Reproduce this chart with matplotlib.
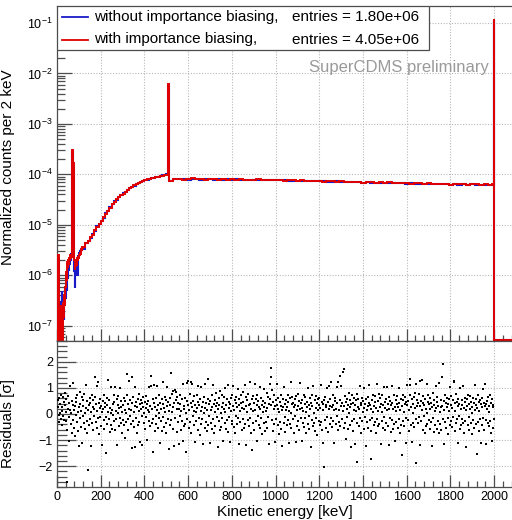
import numpy as np
import matplotlib
matplotlib.use("Agg")
import matplotlib.pyplot as plt
from matplotlib.ticker import LogLocator, MultipleLocator, NullFormatter
from matplotlib.patches import Rectangle
from matplotlib.lines import Line2D

plt.rcParams['font.family'] = ['Liberation Sans', 'DejaVu Sans']
plt.rcParams['mathtext.default'] = 'regular'

# ---------------- data ---------------- #

# bin edges in keV: 2 keV bins at low energy, coarser bins on the continuum
bin_edges = np.concatenate([np.arange(0, 120, 2), np.arange(120, 510, 10), [510],
                            np.arange(512, 1992, 20), [1992, 1998, 2000, 2100]])

red_low = [1.0e-7, 0, 1.2e-7, 2.5e-6, 1.5e-7, 0, 1.5e-7, 0, 2.0e-7, 0,
           2.5e-7, 1.2e-7, 0, 3.0e-7, 1.5e-7, 3.5e-7, 2.0e-7, 4.0e-7, 2.5e-7, 6.0e-7,
           1.2e-6, 8.0e-7, 1.5e-6, 1.1e-6, 1.8e-6, 1.4e-6, 2.0e-6, 1.6e-6, 2.2e-6, 1.9e-6,
           2.5e-6, 2.1e-6, 2.7e-6, 2.3e-6, 2.8e-6, 3.0e-4, 2.5e-5, 1.7e-4, 1.5e-4, 1.2e-5,
           2.0e-6, 1.3e-6, 1.5e-6, 1.8e-6, 1.6e-6, 2.0e-6, 2.2e-6, 1.9e-6, 2.4e-6, 2.2e-6,
           2.7e-6, 2.5e-6, 2.9e-6, 2.7e-6, 3.1e-6, 2.9e-6, 3.3e-6, 3.1e-6, 3.6e-6, 3.4e-6]
blue_low = [1.0e-7, 0, 0, 2.0e-6, 1.2e-7, 2.0e-7, 2.5e-7, 1.5e-7, 2.8e-7, 1.0e-7,
            3.0e-7, 5.0e-7, 2.5e-7, 2.0e-7, 3.5e-7, 2.5e-7, 1.3e-7, 2.8e-7, 6.0e-7, 3.5e-7,
            4.0e-7, 6.5e-7, 5.0e-7, 7.0e-7, 9.0e-7, 1.1e-6, 1.3e-6, 1.2e-6, 1.7e-6, 1.8e-6,
            2.0e-6, 2.3e-6, 2.2e-6, 2.6e-6, 2.5e-6, 2.8e-4, 2.2e-5, 1.6e-4, 1.4e-4, 1.0e-5,
            1.2e-6, 5.5e-7, 1.1e-6, 1.6e-6, 1.4e-6, 2.1e-6, 1.0e-6, 2.0e-6, 2.5e-6, 2.3e-6,
            2.4e-6, 2.8e-6, 2.7e-6, 3.1e-6, 2.9e-6, 3.3e-6, 3.2e-6, 3.6e-6, 3.4e-6, 3.9e-6]

red_rise = [3.6e-6, 4.3e-6, 4.7e-6, 5.7e-6, 6.4e-6, 7.9e-6, 9.1e-6, 1.06e-5, 1.18e-5, 1.42e-5,
            1.63e-5, 1.92e-5, 2.18e-5, 2.63e-5, 2.86e-5, 3.23e-5, 3.58e-5, 3.93e-5, 4.17e-5, 4.55e-5,
            4.86e-5, 5.35e-5, 5.58e-5, 6.05e-5, 6.36e-5, 6.84e-5, 7.05e-5, 7.46e-5, 7.68e-5, 7.94e-5,
            8.15e-5, 8.45e-5, 8.56e-5, 8.85e-5, 8.97e-5, 9.25e-5, 9.43e-5, 9.78e-5, 9.95e-5]
blue_rise = [3.4e-6, 4.4e-6, 4.9e-6, 5.5e-6, 6.7e-6, 7.6e-6, 9.4e-6, 1.03e-5, 1.22e-5, 1.39e-5,
             1.68e-5, 1.87e-5, 2.24e-5, 2.56e-5, 2.94e-5, 3.17e-5, 3.64e-5, 3.86e-5, 4.25e-5, 4.48e-5,
             4.95e-5, 5.27e-5, 5.66e-5, 5.96e-5, 6.45e-5, 6.76e-5, 7.14e-5, 7.38e-5, 7.77e-5, 7.86e-5,
             8.24e-5, 8.37e-5, 8.64e-5, 8.78e-5, 9.06e-5, 9.17e-5, 9.52e-5, 9.69e-5, 1.01e-4]

red_peak511 = 6.2e-3
blue_peak511 = 6.0e-3

# flat part 512-1992 keV, in units of 1e-5
red_flat = [7.3, 8.0, 8.2, 7.9, 8.1, 8.3, 8.0, 8.1, 7.9, 8.2,
            8.0, 7.9, 8.1, 7.8, 8.0, 7.9, 8.1, 7.8, 7.9, 7.7,
            8.0, 7.8, 7.7, 7.9, 7.6, 7.8, 7.5, 7.7, 7.6, 7.4,
            7.6, 7.5, 7.3, 7.5, 7.4, 7.2, 7.4, 7.3, 7.1, 7.3,
            7.2, 7.0, 7.2, 7.1, 6.9, 7.1, 7.0, 6.9, 7.0, 6.8,
            7.0, 6.9, 6.7, 6.9, 6.8, 6.6, 6.8, 6.7, 6.5, 6.7,
            6.6, 6.4, 6.6, 6.5, 6.3, 6.5, 6.4, 6.6, 6.3, 6.5,
            6.4, 6.2, 6.4, 6.3]
blue_flat = [7.5, 8.1, 8.0, 8.2, 7.9, 8.1, 8.2, 7.9, 8.0, 8.1,
             7.8, 8.0, 7.9, 8.0, 7.8, 8.0, 7.9, 7.7, 7.9, 7.8,
             7.8, 7.9, 7.6, 7.7, 7.7, 7.6, 7.7, 7.5, 7.5, 7.5,
             7.4, 7.5, 7.4, 7.3, 7.3, 7.3, 7.2, 7.2, 7.3, 7.1,
             7.0, 7.1, 7.1, 7.0, 6.9, 7.0, 6.9, 6.8, 6.9, 6.9,
             6.8, 6.7, 6.8, 6.8, 6.6, 6.7, 6.6, 6.6, 6.5, 6.5,
             6.6, 6.4, 6.4, 6.5, 6.3, 6.4, 6.3, 6.5, 6.2, 6.4,
             6.3, 6.3, 6.2, 6.2]

# 1992-1998, 1998-2000 (2 MeV line), 2000-2100 (empty)
red_tail = [6.4e-5, 1.18e-1, 0]
blue_tail = [6.3e-5, 1.15e-1, 0]

entries_without = "1.80e+06"
entries_with = "4.05e+06"

# residuals, one per 2 keV bin from 0 to 2000 keV
residuals = [
    0.55, 0.52, 0.28, -0.05, 0.61, -0.32, 0.04, 0.38, -0.18, 0.73, 0.12, -0.44, 0.25, 0.66, -0.08, 0.47, -0.22, 0.81, 0.33, -0.27, 0.09, 0.58, -2.62, -0.61, 0.21,
    0.69, -0.12, 0.42, -1.05, 0.17, 1.08, -0.38, 0.02, 0.51, -0.71, 0.36, -0.24, 1.17, 0.14, -0.53, 0.29, -0.86, 0.63, -0.02, 0.45, -0.31, 0.72, 0.07, -0.67, -1.21,
    0.26, 0.84, -0.15, 0.39, -0.48, 0.11, 0.67, -1.13, 0.31, -0.09, 0.54, -0.36, 0.76, 0.03, -0.58, 0.22, 1.12, -0.26, 0.48, -0.74, 0.15, -2.15, 0.34, -0.41, 0.62,
    -0.19, 0.44, 0.08, -1.22, 0.71, -0.34, 0.27, 0.53, -0.63, 0.18, -0.07, 0.65, 1.42, -0.29, 0.37, 1.06, -0.52, 0.13, 1.21, -0.16, 0.41, -0.78, 0.24, -0.11, 0.58,
    -0.45, 0.32, 0.06, -1.18, 0.49, 0.19, -0.24, 0.74, -0.57, 0.28, 0.42, -0.13, -1.48, 0.36, 0.61, -0.37, 0.09, 1.31, -0.21, 0.52, -0.69, 0.23, 0.04, -0.42, 1.03,
    0.17, -0.56, 0.38, -0.03, 0.71, -0.28, 0.46, 1.03, -0.61, 0.12, -0.19, 0.57, -1.17, 0.33, 0.05, 0.68, -0.47, 0.22, -0.14, 0.99, -0.36, 0.27, 0.48, -0.73, 0.06,
    0.35, -0.22, 0.61, -0.41, 0.14, -0.93, 0.49, 0.02, -0.31, 0.74, 1.52, -0.18, 0.39, -0.62, 0.21, 1.25, -0.09, 0.55, -0.37, 0.16, -1.32, 0.43, 1.41, -0.27, 0.67,
    -0.51, 0.08, -1.25, 0.31, 1.04, -0.16, 0.47, -0.72, 0.25, 0.59, -0.43, 0.12, 0.76, -0.29, 0.37, -1.08, 0.19, 0.53, -0.06, 0.41, -1.17, 0.28, 0.64, -0.34, 0.03,
    0.47, -0.58, 0.22, 0.69, -0.13, 0.38, -0.99, 0.15, 0.51, -0.26, 1.03, 0.06, -0.46, 0.32, 1.09, 1.45, -0.35, 0.18, -1.47, 0.57, -0.21, 0.42, 1.12, -0.64, 0.27,
    -0.08, 0.63, -0.39, 0.14, 1.08, -0.55, 0.33, -0.17, 0.71, 0.02, -1.13, 0.44, -0.28, 0.19, 0.56, -0.66, 0.37, 1.21, -0.12, 0.24, -0.48, 0.65, 0.09, -0.33, 0.52,
    -0.74, 0.29, 1.05, -0.19, 0.46, -1.35, 0.13, 0.62, -0.41, 0.34, 1.58, -0.23, 0.78, 0.07, -0.56, 0.88, 0.25, -1.24, 0.41, 0.92, -0.15, 0.83, 0.55, -0.68, 0.18,
    0.66, -0.32, 0.44, -1.15, 0.21, 0.73, -0.06, 0.39, -0.63, 0.12, 0.58, -0.27, 1.14, -1.02, 0.31, -0.45, 0.19, 0.63, -0.37, 0.05, -1.44, 0.48, 1.18, -0.21, 0.35,
    1.26, -0.53, 0.17, 0.76, -0.31, 1.21, 0.42, -0.72, 0.28, 1.14, -0.09, 0.51, -0.44, 0.13, 0.69, -1.07, 0.36, 0.08, -0.25, 0.74, 0.22, -0.61, 0.47, 1.07, -0.14,
    0.33, -0.79, 0.58, 0.11, -0.38, 1.02, -0.18, 0.27, -1.16, 0.45, 0.03, 0.67, -0.52, 0.24, 1.16, -0.29, 0.41, -0.66, 0.15, 0.59, -0.43, 1.33, -0.08, 0.37, -1.12,
    0.49, 0.14, -0.35, 0.71, -0.57, 0.26, 1.13, -0.21, 0.38, -0.74, 0.09, 0.55, -0.46, 0.31, 0.79, -0.12, 0.44, -1.27, 0.18, 0.62, -0.28, 0.36, -0.63, 0.87, 0.04,
    -0.51, 0.28, 0.72, -0.15, 0.43, -1.02, 0.19, 0.65, -0.36, 1.01, 0.07, -0.58, 0.34, 0.56, -0.24, 1.11, -0.69, 0.22, 0.47, -0.11, 0.38, -1.08, 0.61, 0.13, -0.39,
    0.74, -0.27, 0.31, 1.09, -0.49, 0.16, 0.53, -0.73, 0.42, -0.06, 0.67, 0.25, -0.38, 0.94, -0.17, 0.35, -1.15, 0.58, 0.11, -0.32, 0.71, 0.44, -0.62, 0.23, 0.83,
    -0.19, 0.46, -0.54, 0.18, 1.11, -0.37, 0.29, 0.64, -1.18, 0.06, 0.52, -0.23, 0.77, -0.45, 0.33, 1.22, -0.14, 0.39, -0.71, 0.21, 0.56, -1.38, 0.12, 0.68, -0.33,
    0.41, -0.61, 1.14, 0.15, -0.28, 0.57, -1.03, 0.36, 0.73, -0.09, 0.48, -0.42, 0.26, 1.04, -0.55, 0.19, 0.62, -0.17, 0.34, -0.78, 0.51, 0.08, -0.36, 0.95, 0.27,
    -0.64, 0.43, 0.12, -0.31, 0.79, -0.52, 0.24, 0.67, -0.13, 0.38, -1.16, 0.57, 1.16, 0.34, 1.42, 1.78, 0.91, -0.22, 0.46, -0.67, 0.18, 0.73, -0.39, 0.29, -1.07,
    0.52, -0.18, 0.36, 1.15, -0.44, 0.21, 0.63, -0.76, 0.09, 0.47, -0.29, 0.71, -0.57, 0.32, 0.14, -1.23, 0.58, 0.26, -0.35, 1.02, -0.11, 0.39, -0.68, 0.17, 0.55,
    -0.42, 0.28, 0.74, -0.23, 0.46, -1.11, 0.12, 0.61, -0.37, 1.23, 0.05, -0.54, 0.37, 0.66, -0.19, 0.43, -0.73, 0.25, 0.58, -0.08, 0.34, -1.07, 0.69, 0.16, -0.46,
    0.31, 0.77, -0.26, 0.49, -0.62, 0.18, 1.17, -0.14, 0.42, -1.04, 0.23, 0.55, -0.33, 0.13, 0.72, -0.51, 0.38, -0.17, 0.64, 0.09, -0.71, 0.47, 0.26, -0.39, 1.01,
    -0.07, 0.35, -0.58, 0.62, 0.19, -1.26, 0.44, 0.71, -0.24, 0.31, -0.47, 1.06, 0.03, -0.35, 0.53, -0.66, 0.24, 0.68, -0.16, 0.41, -0.79, 0.15, 0.57, -0.28, 0.36,
    0.63, -0.42, 0.22, 1.11, -0.31, 0.47, -0.63, 0.14, 0.38, -1.11, -2.02, 0.52, -0.22, 0.67, 0.28, -0.55, 0.35, 0.99, -0.12, 0.45, -0.69, 0.19, 1.08, 0.31, -0.37,
    0.58, -0.14, 1.22, 0.26, -0.48, 0.36, 0.73, -0.27, 0.15, -1.12, 0.49, 0.62, -0.38, 0.21, 1.04, -0.06, 0.41, -0.63, 1.22, 0.17, -0.29, 0.55, 1.46, -0.45, 0.32,
    1.06, -0.21, 0.43, 1.61, 0.11, 1.73, -0.53, 0.29, 0.68, -0.34, 0.47, -0.97, 0.18, 0.59, -0.13, 0.36, -0.59, 0.82, 0.04, -0.41, 0.53, 0.26, -1.27, 0.39, 0.71,
    -0.25, 0.44, -0.66, 0.17, 0.63, -0.19, 0.35, -1.14, 0.52, 0.12, -1.84, 0.77, -0.36, 0.28, 0.56, -0.47, 0.19, 1.09, -0.15, 0.42, -0.72, 0.33, 0.61, -0.28, 0.07,
    0.49, -0.58, 0.23, 1.01, -0.11, 0.38, -1.21, 0.57, 0.14, -0.32, 0.67, 0.29, -0.54, 0.44, 1.12, -0.23, 0.36, -0.64, 0.18, -1.72, 0.53, -0.17, 0.74, 0.06, -0.43,
    0.31, 0.69, -0.29, 0.45, -0.73, 0.22, 1.14, -0.18, 0.51, -0.46, 0.13, 0.78, -0.37, 0.27, 0.62, -1.14, 0.39, 0.08, -0.26, 0.71, -0.52, 0.35, 1.03, -0.12, 0.46,
    -0.61, 0.24, 0.57, -0.34, 1.03, 0.15, -0.47, 0.38, -1.19, 0.66, 0.21, -0.16, 0.49, -0.68, 0.33, 1.07, -0.24, 0.42, -0.56, 0.19, 0.74, -0.38, 0.28, -1.03, 0.55,
    0.12, -0.31, 0.68, 0.37, -0.52, 0.26, 1.01, -0.19, 0.44, -0.71, 0.17, 0.59, -0.42, 0.31, -1.58, 0.53, -0.27, 0.74, 0.09, -0.46, 0.38, 0.65, -0.14, 0.47, -1.13,
    0.35, 1.11, -0.22, 0.48, -0.65, 0.14, 0.72, 1.12, 1.34, -0.41, 0.26, 0.57, -1.08, 0.39, 0.05, -0.33, 0.64, -0.51, 0.22, 0.82, -0.18, 1.15, -1.88, 0.31, 0.53,
    -0.36, 0.43, 0.76, -0.12, 0.29, -1.18, 1.28, 0.51, -0.27, 1.31, 0.14, -0.62, 0.41, 0.68, -0.09, 0.35, -0.74, 0.58, 0.21, -0.45, 1.16, 0.03, -0.39, 0.47, 0.72,
    -0.23, 0.37, -0.56, 0.18, 0.63, -0.31, 0.44, -1.21, 0.27, 0.79, -0.15, 0.52, -0.68, 0.34, 0.11, -0.42, 1.09, 0.23, -0.58, 0.46, 0.67, -0.26, 0.32, -0.74, 1.19,
    0.08, -0.37, 0.55, 0.28, -0.63, 1.41, 0.32, 1.92, -0.21, 0.49, -1.16, 0.16, 0.73, -0.32, 0.43, -0.54, 0.25, 0.61, -0.17, 0.38, -0.77, 0.57, 0.11, -0.44, 1.04,
    -0.28, 0.34, 0.69, -0.49, 0.22, 0.53, -0.13, 1.23, 1.26, -0.64, 0.41, 0.12, -0.35, 0.78, -0.21, 0.46, -1.12, 0.29, 0.59, -0.08, 0.37, -0.57, 0.98, 0.18, -0.43,
    0.52, -0.19, 0.33, 1.06, -0.36, 0.24, -0.71, 0.47, 0.63, -0.27, 0.15, -1.25, 0.58, 0.31, -0.44, 0.74, -0.12, 0.39, -0.61, 0.21, 0.68, -0.33, 0.46, 0.05, -0.78,
    0.27, 0.62, -0.24, 0.41, -0.53, 0.17, 1.13, -0.38, 0.34, 0.56, -1.52, 0.22, 0.71, -0.29, 0.45, -0.67, 0.13, 0.54, -0.18, 0.37, -1.11, 0.61, 0.26, -0.41, 0.96,
    -0.15, 0.43, -0.62, 0.29, 1.15, -0.23, 0.38, -1.14, 0.51, 0.18, -0.36, 0.66, 0.09, -0.47, 0.32, 0.73, -0.26, 0.44, -0.71, 0.58, -1.02, 0.27, 0.36, -0.55, -0.18,
]

# ---------------- style ---------------- #

RED = '#e00000'
BLUE = '#1a1ac8'
FRAME = '#4d4d4d'
GRID = '#b8b8b8'
Y_MIN, Y_MAX = 5.0e-8, 0.217
X_MIN, X_MAX = 0, 2082


def style_axis(ax):
    for s in ax.spines.values():
        s.set_color(FRAME)
        s.set_linewidth(0.9)
    ax.spines['right'].set_visible(False)
    ax.tick_params(which='both', direction='in', top=False, right=False,
                   colors=FRAME, labelcolor='black', labelsize=9, pad=3)
    ax.xaxis.set_major_locator(MultipleLocator(200))
    ax.xaxis.set_minor_locator(MultipleLocator(40))
    ax.tick_params(axis='x', which='major', length=9, width=0.9)
    ax.tick_params(axis='x', which='minor', length=4.5, width=0.9)
    ax.grid(True, which='major', color=GRID, linestyle=(0, (1, 1.5)), linewidth=0.8)
    ax.set_xlim(X_MIN, X_MAX)


def main():
    red = np.array(red_low + red_rise + [red_peak511] + [v * 1e-5 for v in red_flat] + red_tail)
    blue = np.array(blue_low + blue_rise + [blue_peak511] + [v * 1e-5 for v in blue_flat] + blue_tail)
    # ROOT draws empty bins at the bottom of a log axis
    red_draw = np.where(red > 0, red, Y_MIN * 1.04)
    blue_draw = np.where(blue > 0, blue, Y_MIN * 1.04)

    fig = plt.figure(figsize=(5.12, 5.2), dpi=100)
    ax = fig.add_axes([57 / 512, 1 - 341 / 520, 455 / 512, 335 / 520])
    axr = fig.add_axes([57 / 512, 1 - 487 / 520, 455 / 512, 146 / 520])

    # ---- spectrum ----
    style_axis(ax)
    ax.stairs(blue_draw, bin_edges, color=BLUE, linewidth=1.5, zorder=3)
    ax.stairs(red_draw, bin_edges, color=RED, linewidth=1.4, zorder=4)
    ax.set_yscale('log')
    ax.set_ylim(Y_MIN, Y_MAX)
    ax.yaxis.set_major_locator(LogLocator(base=10, numticks=20))
    ax.yaxis.set_minor_locator(LogLocator(base=10, subs=np.arange(2, 10), numticks=20))
    ax.yaxis.set_minor_formatter(NullFormatter())
    ax.tick_params(axis='y', which='major', length=11, width=0.9)
    ax.tick_params(axis='y', which='minor', length=5.5, width=0.9)
    ax.tick_params(axis='x', labelbottom=False)
    ax.set_ylabel('Normalized counts per 2 keV', fontsize=11)
    ax.yaxis.set_label_coords(-0.092, 0.52)

    ax.text(0.949, 0.803, 'SuperCDMS preliminary', transform=ax.transAxes,
            ha='right', va='baseline', fontsize=12, color='#9a9a9a', zorder=6)

    # legend box drawn by hand (two text columns)
    ax.add_patch(Rectangle((0, 0.869), 0.818, 0.131, transform=ax.transAxes,
                           facecolor='white', edgecolor=FRAME, linewidth=0.9, zorder=7))
    for yy, col, name, n in [(0.966, BLUE, 'without importance biasing,', entries_without),
                             (0.900, RED, 'with importance biasing,', entries_with)]:
        ax.add_line(Line2D([0.011, 0.068], [yy, yy], transform=ax.transAxes,
                           color=col, linewidth=1.3, zorder=8))
        ax.text(0.081, yy, name, transform=ax.transAxes, ha='left', va='center',
                fontsize=11, zorder=8)
        ax.text(0.516, yy, 'entries = ' + n, transform=ax.transAxes, ha='left',
                va='center', fontsize=11, zorder=8)

    # ---- residuals ----
    style_axis(axr)
    res_energy = 1 + 2 * np.arange(len(residuals))
    axr.plot(res_energy, residuals, linestyle='none', marker='s', markersize=2.0,
             color='black', markeredgewidth=0, zorder=3)
    axr.set_ylim(-2.8, 2.8)
    axr.yaxis.set_major_locator(MultipleLocator(1))
    axr.yaxis.set_minor_locator(MultipleLocator(0.2))
    axr.tick_params(axis='y', which='major', length=14, width=0.9)
    axr.tick_params(axis='y', which='minor', length=7, width=0.9)
    axr.set_ylabel('Residuals [σ]', fontsize=11)
    axr.yaxis.set_label_coords(-0.092, 0.435)
    axr.set_xlabel('Kinetic energy [keV]', fontsize=11, labelpad=1)

    fig.savefig('out.png', dpi=100)


if __name__ == '__main__':
    main()
